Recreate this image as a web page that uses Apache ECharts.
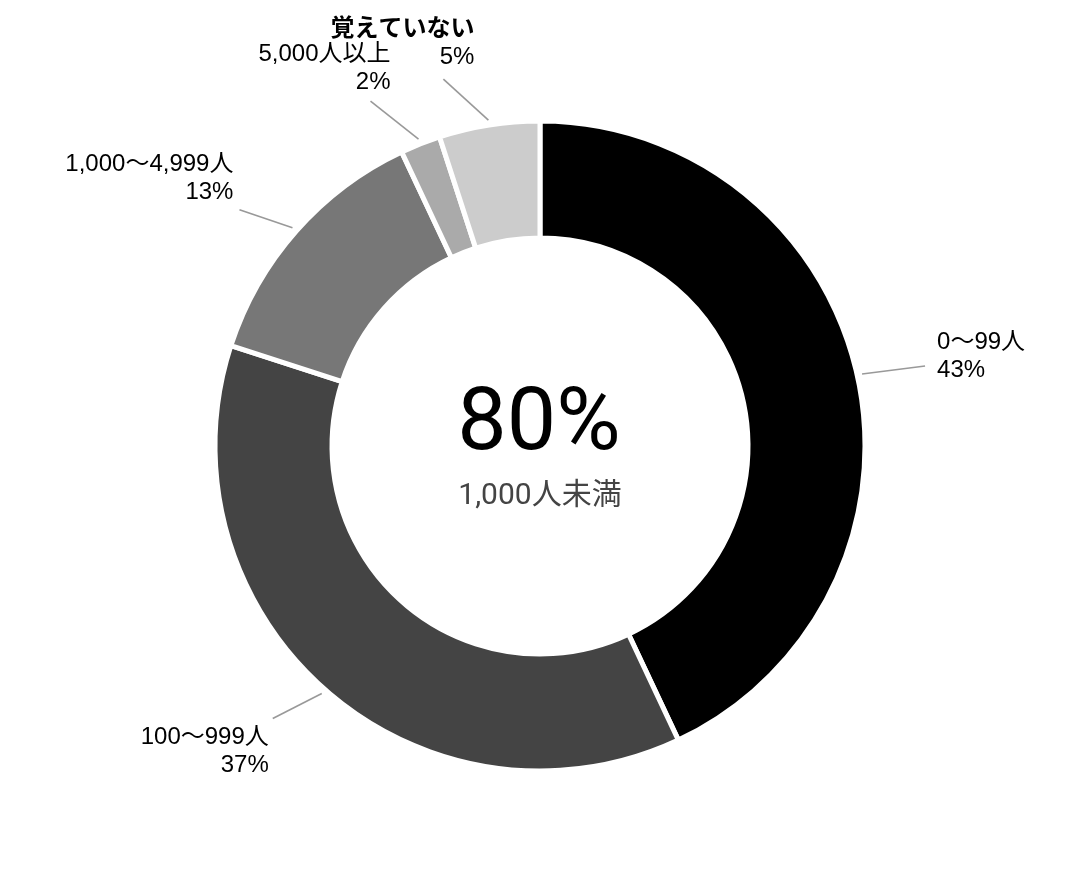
<!DOCTYPE html>
<html>
<head>
<meta charset="utf-8">
<script src="https://cdn.jsdelivr.net/npm/echarts@6.0.0/dist/echarts.min.js"></script>
<style>
html,body{margin:0;padding:0;background:#fff;}
#chart{width:1080px;height:889px;}
</style>
</head>
<body>
<div id="chart"></div>
<script>
// ---- data ----
const categories = ['0〜99人', '100〜999人', '1,000〜4,999人', '5,000人以上', '覚えていない'];
const values = [43, 37, 13, 2, 5];
const centerValue = '80%';
const centerCaption = '1,000人未満';

// ---- styles ----
const colors = ['#000000', '#444444', '#777777', '#aaaaaa', '#cccccc'];
const nameStyle = ['n', 'n', 'n', 'n', 'nb'];
// label line vector (from start point) per slice
const LINE_VEC = [[63, -8], [-49, 25], [-53, -18], [-48, -38], [-45, -41]];
// label anchor offset from line end + alignment
const LABEL_OFF = [
  [12, -10, 'left', 'middle'],
  [-4, 5, 'right', 'top'],
  [-6, -3, 'right', 'bottom'],
  [20, -5, 'right', 'bottom'],
  [31, -8, 'right', 'bottom']
];
const GAP = 5;
const FONT = "'Liberation Sans', Arial, 'Noto Sans CJK JP', sans-serif";
const CFONT = "Roboto, 'Noto Sans CJK JP', sans-serif";

const chart = echarts.init(document.getElementById('chart'));
chart.setOption({
  animation: false,
  backgroundColor: '#ffffff',
  graphic: [
    {
      type: 'text', x: 539, y: 427,
      style: { text: centerValue, fill: '#000', font: "88px " + CFONT, textAlign: 'center', textVerticalAlign: 'middle' }
    },
    {
      type: 'text', x: 540, y: 496,
      style: { text: centerCaption, fill: '#444', font: "30px " + CFONT, textAlign: 'center', textVerticalAlign: 'middle' }
    }
  ],
  series: [{
    type: 'pie',
    center: [540, 446],
    radius: [208, 325],
    startAngle: 90,
    clockwise: true,
    avoidLabelOverlap: false,
    itemStyle: { borderColor: '#ffffff', borderWidth: 5 },
    emphasis: { disabled: true },
    label: {
      show: true,
      position: 'outside',
      formatter: function (p) {
        return '{' + nameStyle[p.dataIndex] + '|' + p.name + '}\n{p|' + p.value + '%}';
      },
      rich: {
        n: { fontSize: 24, color: '#000', fontFamily: FONT, lineHeight: 28 },
        nb: { fontSize: 24, color: '#000', fontWeight: 'bold', fontFamily: FONT, lineHeight: 28 },
        p: { fontSize: 24, color: '#000', fontFamily: FONT, lineHeight: 28 }
      }
    },
    labelLine: { show: true, length: 10, length2: 10, lineStyle: { color: '#999', width: 1.6 } },
    labelLayout: function (params) {
      const i = params.dataIndex;
      const pts = params.labelLinePoints;
      if (!pts) return {};
      const p0 = pts[0], p1 = pts[1];
      const dx = p1[0] - p0[0], dy = p1[1] - p0[1];
      const len = Math.hypot(dx, dy) || 1;
      const s = [p0[0] + dx / len * GAP, p0[1] + dy / len * GAP];
      const v = LINE_VEC[i];
      const e = [s[0] + v[0], s[1] + v[1]];
      const o = LABEL_OFF[i];
      return {
        x: e[0] + o[0], y: e[1] + o[1],
        align: o[2], verticalAlign: o[3],
        labelLinePoints: [s, e, e]
      };
    },
    data: categories.map(function (c, i) {
      return { name: c, value: values[i], itemStyle: { color: colors[i] } };
    })
  }]
});
</script>
</body>
</html>
